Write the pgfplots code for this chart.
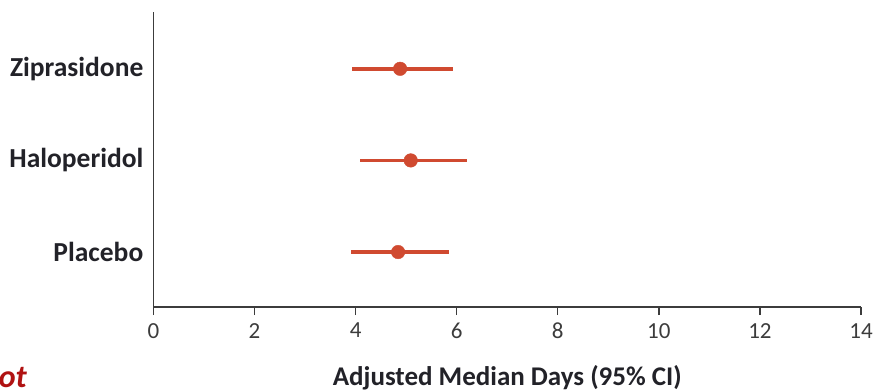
\documentclass[border=0pt]{standalone}
\usepackage{fontspec}
\setmainfont{Carlito}
\usepackage{pgfplots}
\usepackage{pgfplotstable}
\pgfplotsset{compat=1.18}
\definecolor{ci}{HTML}{D04A30}
\definecolor{axgray}{HTML}{3C3C3C}
\definecolor{labblack}{HTML}{222228}
\definecolor{darkred}{HTML}{B01212}
\pgfplotstableread{
y m lo hi
3 4.88 3.92 5.93
2 5.09 4.09 6.20
1 4.84 3.90 5.85
}\cidata
\begin{document}
\begin{tikzpicture}
\useasboundingbox (0pt,0pt) rectangle (878pt,391pt);
\begin{axis}[
  at={(153.5pt,84pt)}, anchor=south west,
  scale only axis, width=707.5pt, height=295pt,
  xmin=0, xmax=14, ymin=0.4, ymax=3.62,
  axis x line*=bottom, axis y line*=left,
  axis line style={-, draw=axgray, line width=1.3pt},
  xtick={0,2,...,14}, ytick={1,2,3},
  yticklabels={Placebo,Haloperidol,Ziprasidone},
  tick align=outside, xtick pos=bottom,
  x tick style={draw=axgray, line width=1.3pt},
  major tick length=8pt,
  y tick style={draw=none},
  /pgf/number format/assume math mode=true,
  xticklabel style={font=\fontsize{23}{27}\selectfont, text=axgray, inner sep=0pt, yshift=-8pt},
  yticklabel style={font=\fontsize{27.5}{32}\selectfont\bfseries, text=labblack, inner sep=0pt, anchor=east, xshift=-2pt},
  xlabel={Adjusted Median Days (95\% CI)},
  xlabel style={font=\fontsize{27}{32}\selectfont\bfseries, text=labblack, at={(axis description cs:0.5,-0.24)}, anchor=center},
  clip=false,
]
\addplot[only marks, mark=*, mark size=6.8pt, color=ci,
  mark options={draw=ci, fill=ci},
  error bars/.cd, x dir=both, x explicit, error mark=none,
  error bar style={line width=3.8pt, ci}]
  table[x=m, y=y, x error plus expr=\thisrow{hi}-\thisrow{m}, x error minus expr=\thisrow{m}-\thisrow{lo}] {\cidata};
\end{axis}
\node[anchor=base east, text=darkred, font=\fontsize{32}{36}\selectfont\bfseries\itshape, inner sep=0pt] at (27pt,4pt) {Not};
\end{tikzpicture}
\end{document}
